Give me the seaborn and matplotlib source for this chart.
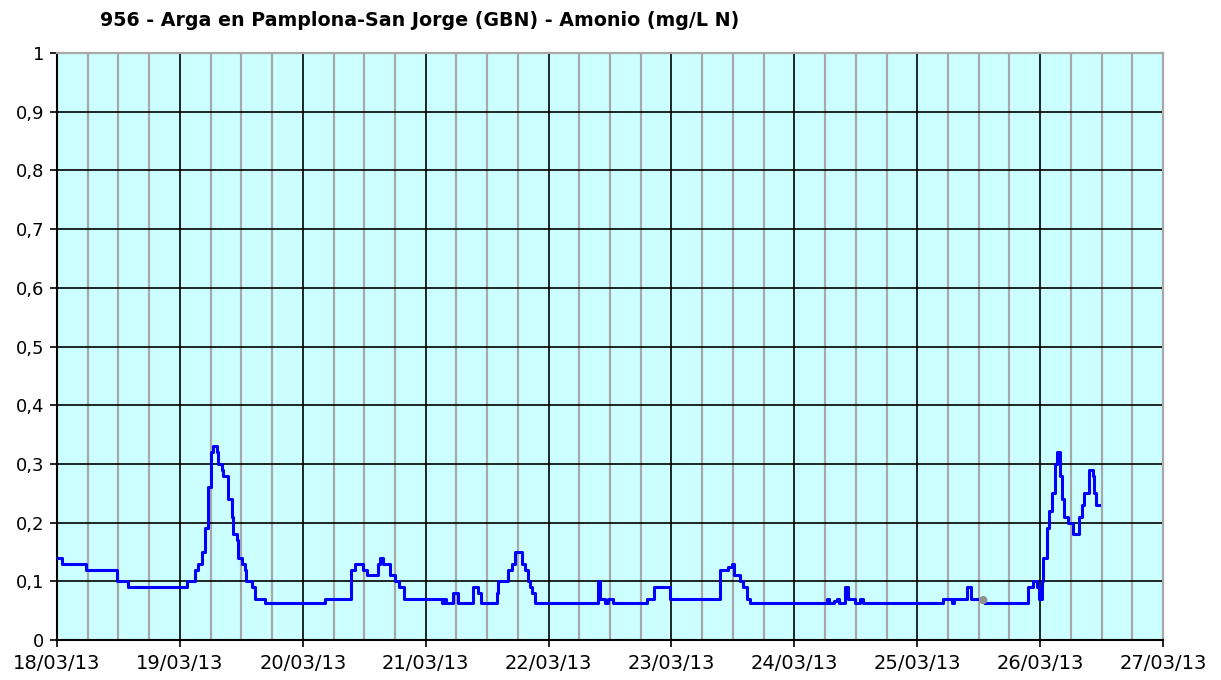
import matplotlib
matplotlib.use("Agg")
import matplotlib.pyplot as plt
import matplotlib.dates as mdates
import numpy as np
import pandas as pd
import seaborn as sns

# ammonium readings, hours since 18/03/13 00:00 (step changes)
hours_a = [0, 1, 5.7, 11.7, 13.9, 25.4, 27.0, 27.6, 28.3, 28.9, 29.4, 30.0, 30.5, 31.2,
           31.5, 32.2, 32.5, 33.3, 34.1, 34.4, 35.1, 35.4, 36.1, 36.7, 37.0, 38.0, 38.7,
           40.6, 52.3, 57.4, 58.2, 59.8, 60.5, 62.6, 63.1, 63.6, 65.0, 66.0, 66.7, 67.8,
           75.1, 75.6, 76.0, 77.4, 78.4, 81.3, 82.3, 82.9, 85.9, 86.2, 88.1, 88.8, 89.4,
           90.8, 91.4, 91.9, 92.4, 92.8, 93.4, 105.7, 106.1, 107.0, 107.7, 108.6, 115.2,
           116.5, 119.7, 129.5, 131.0, 131.8, 132.2, 133.4, 134.0, 134.7, 135.3, 150.3,
           150.8, 151.8, 152.3, 152.8, 153.9, 154.5, 155.9, 156.8, 157.5, 173.1, 174.7,
           175.2, 177.7, 178.6, 179.6]
values_a = [0.14, 0.13, 0.12, 0.10, 0.09, 0.10, 0.12, 0.13, 0.15, 0.19, 0.26, 0.32, 0.33, 0.32,
            0.30, 0.29, 0.28, 0.24, 0.21, 0.18, 0.17, 0.14, 0.13, 0.12, 0.10, 0.09, 0.07,
            0.063, 0.07, 0.12, 0.13, 0.12, 0.11, 0.13, 0.14, 0.13, 0.11, 0.10, 0.09, 0.07,
            0.063, 0.07, 0.063, 0.08, 0.063, 0.09, 0.08, 0.063, 0.08, 0.10, 0.12, 0.13, 0.15,
            0.13, 0.12, 0.10, 0.09, 0.08, 0.063, 0.10, 0.07, 0.063, 0.07, 0.063, 0.07,
            0.09, 0.07, 0.12, 0.125, 0.13, 0.11, 0.10, 0.09, 0.07, 0.063, 0.07,
            0.063, 0.066, 0.07, 0.063, 0.09, 0.07, 0.063, 0.07, 0.063, 0.07, 0.063,
            0.07, 0.09, 0.07, 0.07]
hours_b = [181.3, 189.7, 190.7, 191.3, 191.7, 192.3, 192.6, 193.3, 193.8, 194.4, 194.9, 195.3,
           195.8, 196.2, 196.7, 197.5, 198.5, 199.6, 200.1, 200.6, 201.2, 201.6, 202.3,
           202.6, 203.0, 203.5]
values_b = [0.063, 0.09, 0.10, 0.09, 0.07, 0.10, 0.14, 0.19, 0.22, 0.25, 0.30, 0.32,
            0.28, 0.24, 0.21, 0.20, 0.18, 0.21, 0.23, 0.25, 0.25, 0.29, 0.28,
            0.25, 0.23, 0.23]
flag_hours = [180.9]
flag_values = [0.068]

y_ticks = [0, 0.1, 0.2, 0.3, 0.4, 0.5, 0.6, 0.7, 0.8, 0.9, 1]
y_labels = ["0", "0,1", "0,2", "0,3", "0,4", "0,5", "0,6", "0,7", "0,8", "0,9", "1"]

title = "956 - Arga en Pamplona-San Jorge (GBN) - Amonio (mg/L N)"

base = pd.Timestamp("2013-03-18")
df_a = pd.DataFrame({"t": base + pd.to_timedelta(hours_a, unit="h"), "v": values_a})
df_b = pd.DataFrame({"t": base + pd.to_timedelta(hours_b, unit="h"), "v": values_b})
df_f = pd.DataFrame({"t": base + pd.to_timedelta(flag_hours, unit="h"), "v": flag_values})

plt.rcParams["font.family"] = ["DejaVu Sans"]
fig = plt.figure(figsize=(12.21, 6.8), dpi=100)
ax = fig.add_axes([57 / 1221, 40 / 680, 1106 / 1221, 587 / 680])
ax.set_facecolor("#CCFFFF")
ax.set_axisbelow(True)

sns.lineplot(data=df_a, x="t", y="v", ax=ax, color="#0000FF", lw=2.2,
             drawstyle="steps-post", zorder=3)
sns.lineplot(data=df_b, x="t", y="v", ax=ax, color="#0000FF", lw=2.2,
             drawstyle="steps-post", zorder=3)
sns.scatterplot(data=df_f, x="t", y="v", ax=ax, color="#909090", s=35,
                edgecolor="none", zorder=4)

ax.set_xlim(base, base + pd.Timedelta(days=9))
ax.set_ylim(0, 1)
ax.xaxis.set_major_locator(mdates.DayLocator())
ax.xaxis.set_minor_locator(mdates.HourLocator(byhour=[6, 12, 18]))
ax.xaxis.set_major_formatter(mdates.DateFormatter("%d/%m/%y"))
ax.set_yticks(y_ticks)
ax.set_yticklabels(y_labels)

ax.grid(which="minor", axis="x", color="#A8A8A8", lw=1.6)
ax.grid(which="major", axis="both", color="black", lw=1.2)
ax.tick_params(axis="both", which="major", direction="out", length=5, width=1.2,
               colors="black", pad=4)
ax.tick_params(axis="x", which="major", labelsize=14, pad=5)
ax.tick_params(axis="y", which="major", labelsize=13)
ax.tick_params(axis="x", which="minor", length=0)
ax.set_xlabel("")
ax.set_ylabel("")

for side in ["left", "bottom"]:
    ax.spines[side].set_color("black")
    ax.spines[side].set_linewidth(1.5)
for side in ["top", "right"]:
    ax.spines[side].set_color("#A8A8A8")
    ax.spines[side].set_linewidth(1.6)

fig.text(100 / 1221, 1 - 20 / 680, title, fontsize=13.7, fontweight="bold",
         ha="left", va="center")

fig.savefig("out.png", dpi=100)
